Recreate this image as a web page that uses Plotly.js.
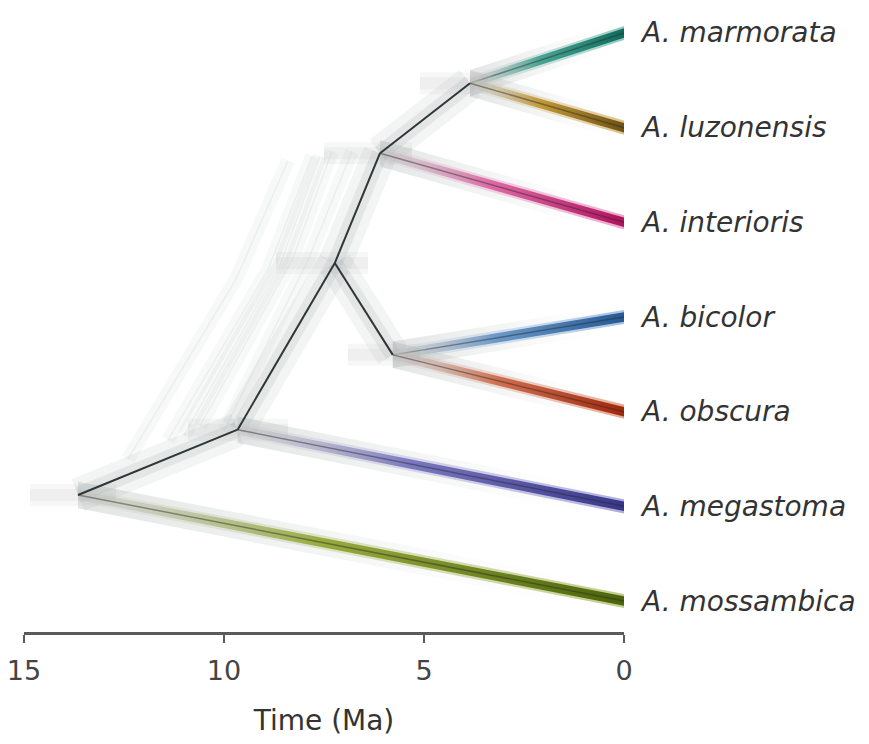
<!DOCTYPE html>
<html><head><meta charset="utf-8">
<script src="https://cdn.plot.ly/plotly-3.0.1.min.js"></script>
<style>html,body{margin:0;padding:0;background:#fff}#chart{width:869px;height:744px}</style>
</head><body><div id="chart"></div>
<script>
// ---- data ----
const species = ['A. marmorata','A. luzonensis','A. interioris','A. bicolor','A. obscura','A. megastoma','A. mossambica'];
const speciesY = [7,6,5,4,3,2,1];
const speciesAge = [0,0,0,0,0,0,0];
const speciesParent = ['E','E','D','C','C','A','root'];
const speciesColor = ['#0e6b5c','#6e5212','#b0125e','#255a95','#a2270c','#37368a','#4b640a'];
const speciesGlow  = ['#4aa595','#c49a38','#de6aa6','#6a98c8','#d0704f','#7a78c0','#97ab3c'];

const nodeId = ['root','A','B','C','D','E'];
const nodeParent = [null,'root','A','B','B','D'];
const nodeAge = [13.65,9.66,7.23,5.78,6.10,3.85];
const nodeY = [2.12,2.81,4.57,3.60,5.73,6.47];
const nodeAgeOld = [14.85,10.9,8.7,6.9,7.5,5.1];
const nodeAgeYoung = [12.7,8.4,6.4,5.1,5.3,3.4];

// faint alternative node placements seen in the tree cloud (age, y)
const altPathAge = [[10.6,8.3,7.3],[11.4,8.9,7.8],[10.0,7.9,6.8],[12.4,9.7,8.4],[11.0,8.6,7.6]];
const altPathY   = [[2.85,4.6,5.75],[2.7,4.5,5.7],[2.8,4.6,5.75],[2.5,4.4,5.65],[2.75,4.55,5.7]];

const tickVals = [15,10,5,0];
const tickText = ['15','10','5','0'];
const axisTitle = 'Time (Ma)';

// ---- build ----
const idx = id => nodeId.indexOf(id);
const traces = [];
const base = {type:'scatter', mode:'lines', hoverinfo:'skip', showlegend:false};

// alt paths (cloud)
altPathAge.forEach((a,i)=>{
  traces.push(Object.assign({}, base, {x:a, y:altPathY[i], line:{color:'rgba(170,176,176,0.09)', width:14}}));
  traces.push(Object.assign({}, base, {x:a, y:altPathY[i], line:{color:'rgba(150,156,156,0.10)', width:1.5}}));
});

// internal edge halos
nodeId.forEach((id,i)=>{
  const p = nodeParent[i]; if(!p) return;
  const j = idx(p);
  const xs=[nodeAge[j],nodeAge[i]], ys=[nodeY[j],nodeY[i]];
  traces.push(Object.assign({}, base, {x:xs, y:ys, line:{color:'rgba(172,180,180,0.14)', width:34}}));
  traces.push(Object.assign({}, base, {x:xs, y:ys, line:{color:'rgba(160,168,168,0.18)', width:16}}));
});

// node age bands
nodeId.forEach((id,i)=>{
  traces.push(Object.assign({}, base, {x:[nodeAgeOld[i],nodeAgeYoung[i]], y:[nodeY[i],nodeY[i]], line:{color:'rgba(172,178,178,0.10)', width:22}}));
  traces.push(Object.assign({}, base, {x:[nodeAgeOld[i],nodeAgeYoung[i]], y:[nodeY[i],nodeY[i]], line:{color:'rgba(172,178,178,0.10)', width:12}}));
});

// terminal halos & colored bands
species.forEach((s,k)=>{
  const j = idx(speciesParent[k]);
  const ax=nodeAge[j], ay=nodeY[j], lx=speciesAge[k], ly=speciesY[k];
  let h=0.14;
  traces.push(Object.assign({}, base, {x:[ax,lx,lx,ax,ax], y:[ay+h,ly+h,ly-h,ay-h,ay+h], fill:'toself', line:{width:0},
    fillgradient:{type:'horizontal', start:ax, stop:lx, colorscale:[[0,'rgba(175,180,180,0.35)'],[0.6,'rgba(190,195,195,0.10)'],[1,'rgba(255,255,255,0)']]}}));
  h=0.075;
  traces.push(Object.assign({}, base, {x:[ax,lx,lx,ax,ax], y:[ay+h,ly+h,ly-h,ay-h,ay+h], fill:'toself', line:{width:0},
    fillgradient:{type:'horizontal', start:ax, stop:lx, colorscale:[[0,'rgba(200,200,200,0.2)'],[0.5,speciesGlow[k]+'44'],[1,speciesGlow[k]+'99']]}}));
  h=0.05;
  traces.push(Object.assign({}, base, {x:[ax,lx,lx,ax,ax], y:[ay+h,ly+h,ly-h,ay-h,ay+h], fill:'toself', line:{width:0},
    fillgradient:{type:'horizontal', start:ax, stop:lx, colorscale:[[0,'rgba(190,190,190,0.3)'],[0.45,speciesGlow[k]],[1,speciesColor[k]]]}}));
  traces.push(Object.assign({}, base, {x:[ax,lx], y:[ay,ly], line:{color:'rgba(40,40,40,0.45)', width:1.5}}));
});

// internal edges
nodeId.forEach((id,i)=>{
  const p = nodeParent[i]; if(!p) return;
  const j = idx(p);
  traces.push(Object.assign({}, base, {x:[nodeAge[j],nodeAge[i]], y:[nodeY[j],nodeY[i]], line:{color:'#2e3737', width:2}}));
});

const annotations = species.map((s,k)=>({
  x: speciesAge[k], y: speciesY[k], xref:'x', yref:'y', text:'<i>'+s+'</i>', showarrow:false,
  xanchor:'left', yanchor:'middle', xshift:14,
  font:{family:'DejaVu Sans, sans-serif', size:28, color:'#333'}
}));

const layout = {
  width:869, height:744,
  margin:{l:24, r:245, t:8, b:112},
  paper_bgcolor:'#fff', plot_bgcolor:'#fff',
  xaxis:{range:[15,0], autorange:false, showgrid:false, zeroline:false,
    showline:true, linecolor:'#5a5a5a', linewidth:3,
    ticks:'outside', ticklen:8, tickwidth:2.5, tickcolor:'#5a5a5a',
    tickvals:tickVals, ticktext:tickText, ticklabelstandoff:5,
    tickfont:{family:'DejaVu Sans, sans-serif', size:27, color:'#444'},
    title:{text:axisTitle, standoff:25, font:{family:'DejaVu Sans, sans-serif', size:28, color:'#333'}}},
  yaxis:{range:[0.6726,7.264], autorange:false, visible:false},
  annotations: annotations
};

Plotly.newPlot('chart', traces, layout, {displayModeBar:false, staticPlot:true});
</script></body></html>
